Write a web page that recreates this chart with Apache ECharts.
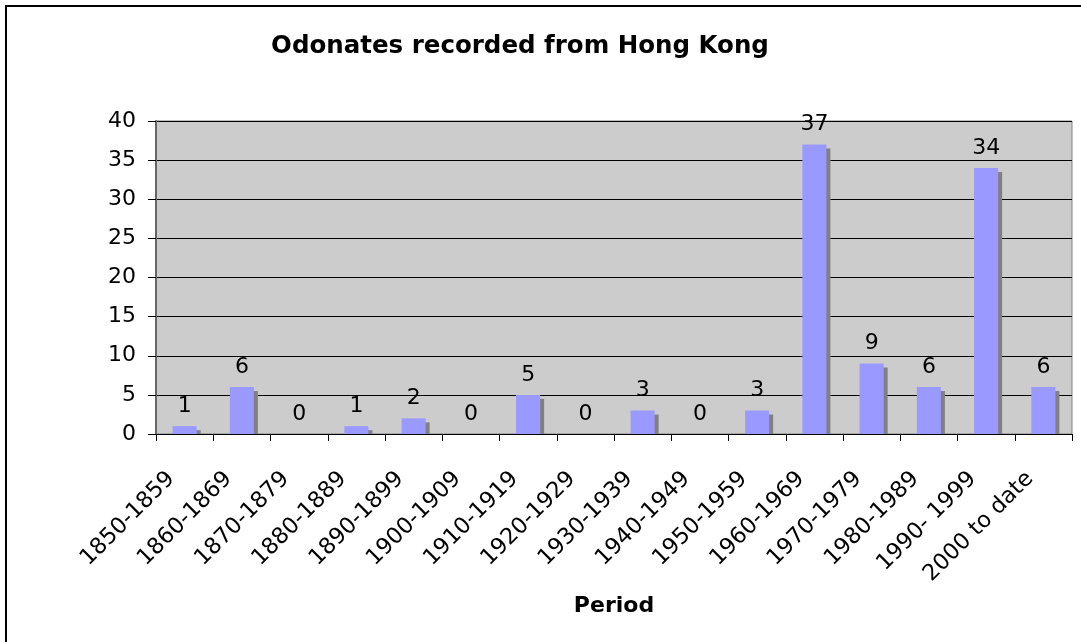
<!DOCTYPE html>
<html>
<head>
<meta charset="utf-8">
<script src="https://cdn.jsdelivr.net/npm/echarts@6/dist/echarts.min.js"></script>
<style>
  html, body { margin: 0; padding: 0; background: #ffffff; }
  #chart { width: 1081px; height: 642px; }
</style>
</head>
<body>
<div id="chart"></div>
<script>
// Decades of first records and the number of species recorded in each
const periods = ['1850-1859', '1860-1869', '1870-1879', '1880-1889', '1890-1899',
  '1900-1909', '1910-1919', '1920-1929', '1930-1939', '1940-1949', '1950-1959',
  '1960-1969', '1970-1979', '1980-1989', '1990- 1999', '2000 to date'];
const speciesCount = [1, 6, 0, 1, 2, 0, 5, 0, 3, 0, 3, 37, 9, 6, 34, 6];
const yTicks = [0, 5, 10, 15, 20, 25, 30, 35, 40];

const FONT = 'DejaVu Sans, Verdana, sans-serif';
const BAR_RATIO = 0.42;
const SHADOW = 4;

const chart = echarts.init(document.getElementById('chart'), null, { renderer: 'canvas' });

chart.setOption({
  backgroundColor: '#ffffff',
  animation: false,
  title: {
    text: 'Odonates recorded from Hong Kong',
    left: 515,
    textAlign: 'center',
    top: 29,
    textStyle: { fontFamily: FONT, fontSize: 24.5, fontWeight: 'bold', color: '#000' }
  },
  graphic: [{
    type: 'rect',
    shape: { x: 6, y: 6, width: 1200, height: 1000 },
    style: { fill: 'none', stroke: '#000', lineWidth: 2 },
    silent: true,
    z: 100
  }],
  grid: {
    left: 156, right: 9, top: 121, bottom: 208,
    show: true,
    backgroundColor: '#cccccc',
    borderColor: '#808080',
    borderWidth: 1
  },
  xAxis: {
    type: 'category',
    data: periods,
    boundaryGap: true,
    name: 'Period',
    nameLocation: 'middle',
    nameGap: 161,
    nameTextStyle: { fontFamily: FONT, fontSize: 22, fontWeight: 'bold', color: '#000' },
    axisLine: { lineStyle: { color: '#000', width: 1 } },
    axisTick: { show: true, length: 7, lineStyle: { color: '#000' } },
    axisLabel: {
      interval: 0,
      rotate: 45,
      margin: 28,
      padding: [0, 19, 0, 0],
      fontFamily: FONT, fontSize: 22.5, color: '#000'
    },
    splitLine: { show: false }
  },
  yAxis: {
    type: 'value',
    min: 0, max: 40, interval: 5,
    axisLine: { show: true, lineStyle: { color: '#666', width: 2 } },
    axisTick: { show: true, length: 8, lineStyle: { color: '#000' } },
    axisLabel: {
      margin: 20,
      fontFamily: FONT, fontSize: 22, color: '#000',
      formatter: v => (yTicks.indexOf(v) >= 0 ? String(v) : '')
    },
    splitLine: { show: true, lineStyle: { color: '#000', width: 1 } }
  },
  series: [
    {
      // drop shadow behind each bar, offset right and down
      type: 'custom',
      z: 1,
      silent: true,
      data: speciesCount.map((v, i) => [i, v]),
      renderItem: function (params, api) {
        const v = api.value(1);
        if (v <= 0) return null;
        const top = api.coord([api.value(0), v]);
        const base = api.coord([api.value(0), 0]);
        const bw = api.size([1, 0])[0] * BAR_RATIO;
        const h = base[1] - top[1] - SHADOW;
        if (h <= 0) return null;
        return {
          type: 'rect',
          shape: { x: top[0] - bw / 2 + SHADOW, y: top[1] + SHADOW, width: bw, height: h },
          style: { fill: '#808080' }
        };
      }
    },
    {
      type: 'bar',
      z: 2,
      data: speciesCount,
      barWidth: (BAR_RATIO * 100) + '%',
      itemStyle: { color: '#9999ff' },
      label: {
        show: true,
        position: 'top',
        distance: 9,
        fontFamily: FONT, fontSize: 22, color: '#000',
        formatter: p => String(p.value)
      }
    }
  ]
});
</script>
</body>
</html>
